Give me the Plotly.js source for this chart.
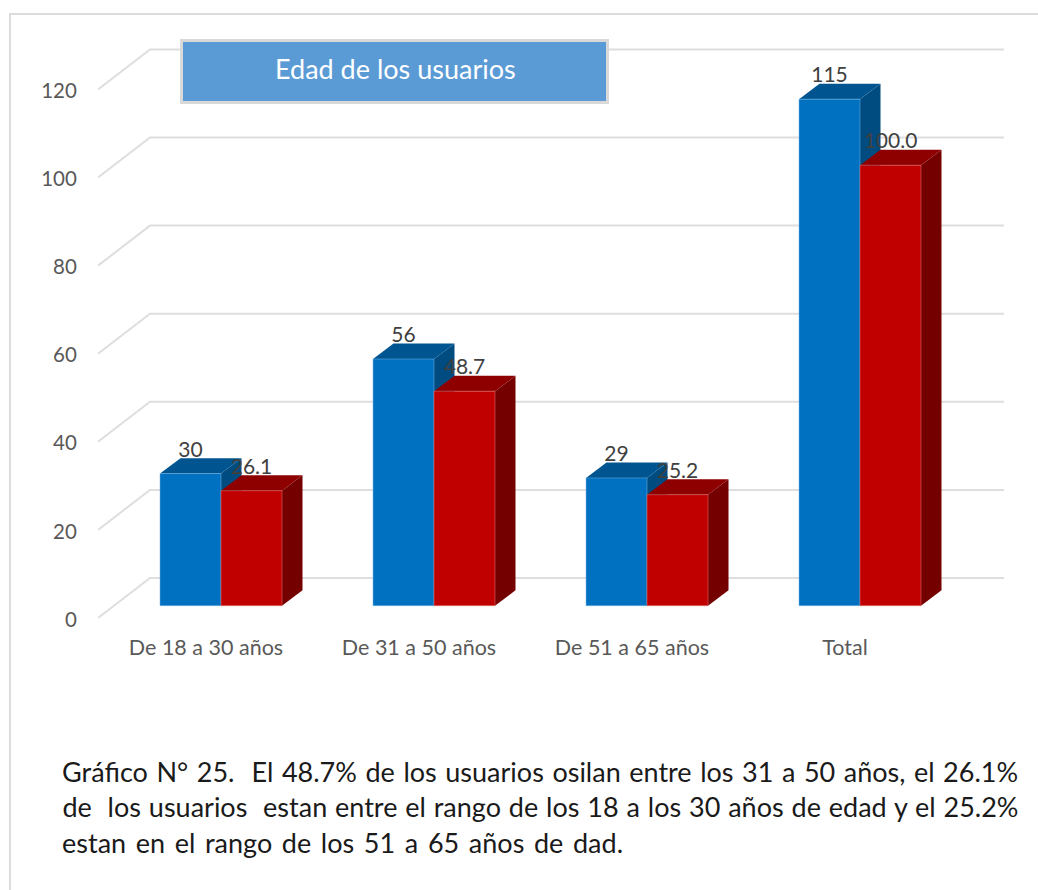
<!DOCTYPE html>
<html>
<head>
<meta charset="utf-8">
<script src="https://cdn.plot.ly/plotly-3.0.1.min.js"></script>
<style>
html,body{margin:0;padding:0;background:#fff;width:1038px;height:890px;overflow:hidden}
#frame{position:absolute;left:9px;top:13px;width:1040px;height:900px;border-left:2px solid #dcdcdc;border-top:2px solid #dcdcdc}
#chart{position:absolute;left:0;top:0;width:1038px;height:890px}
</style>
</head>
<body>
<div id="frame"></div>
<div id="chart"></div>
<script>
const categories = ['De 18 a 30 años', 'De 31 a 50 años', 'De 51 a 65 años', 'Total'];
const usuarios = [30, 56, 29, 115];
const porcentaje = [26.1, 48.7, 25.2, 100.0];
const yTicks = [0, 20, 40, 60, 80, 100, 120];
const chartTitle = 'Edad de los usuarios';
const captionLines = [
  'Gráfico N° 25.\u00a0 El 48.7% de los usuarios osilan entre los 31 a 50 años, el 26.1%',
  'de\u00a0 los usuarios\u00a0 estan entre el rango de los 18 a los 30 años de edad y el 25.2%',
  'estan en el rango de los 51 a 65 años de dad.'
];

// page geometry (pixels)
const W = 1038, H = 890;
const plot = {l: 98, r: 1004, t: 30, b: 627};
const pxPerUnit = 4.405, pxPerCat = 213, zeroPx = 605.7, cat0Px = 221;
const barPx = 61;
const depthBar = {x: 20.5, y: 15.4}, depthWall = {x: 52, y: 40};
const gridDrop = 12.3, tickLabelDrop = 13.8;

const xRange = [(plot.l - cat0Px) / pxPerCat, (plot.r - cat0Px) / pxPerCat];
const yRange = [(zeroPx - plot.b) / pxPerUnit, (zeroPx - plot.t) / pxPerUnit];
const barW = barPx / pxPerCat;
const dx = depthBar.x / pxPerCat, dy = depthBar.y / pxPerUnit;
const wallDx = depthWall.x / pxPerCat, wallDy = depthWall.y / pxPerUnit;
const idx = categories.map((_, i) => i);
const px2paperX = p => (p - plot.l) / (plot.r - plot.l);
const px2paperY = p => (plot.b - p) / (plot.b - plot.t);

function poly(pts, fill) {
  return {type: 'path', xref: 'x', yref: 'y', layer: 'below',
    path: 'M' + pts.map(p => p[0] + ',' + p[1]).join(' L') + ' Z',
    fillcolor: fill, line: {width: 0}};
}
function faces(xL, v, topCol, sideCol) {
  const xR = xL + barW;
  return [
    poly([[xR, 0], [xR + dx, dy], [xR + dx, v + dy], [xR, v]], sideCol),
    poly([[xL, v], [xL + dx, v + dy], [xR + dx, v + dy], [xR, v]], topCol)
  ];
}
const shapes = [];
// wall gridlines: short slanted floor line, then along the back wall
yTicks.forEach(v => {
  const fy = v - gridDrop / pxPerUnit;
  shapes.push({type: 'path', xref: 'x', yref: 'y', layer: 'below',
    path: `M${xRange[0]},${fy} L${xRange[0] + wallDx},${fy + wallDy} L${xRange[1]},${fy + wallDy}`,
    line: {color: '#dedede', width: 2}});
});
idx.forEach(i => shapes.push(...faces(i - barW, usuarios[i], '#005590', '#004b80')));
idx.forEach(i => shapes.push(...faces(i, porcentaje[i], '#8e0000', '#750000')));

const labelLift = 22 / pxPerUnit;
const labelFont = {family: 'Lato', size: 21, color: '#404040'};
const traces = [
  {type: 'bar', name: 'Usuarios', x: idx, y: usuarios, marker: {color: '#0070c0', line: {color: 'rgba(120,180,230,0.5)', width: 1}}, hoverinfo: 'y'},
  {type: 'bar', name: 'Porcentaje', x: idx, y: porcentaje, marker: {color: '#c00000', line: {color: 'rgba(230,120,120,0.5)', width: 1}}, hoverinfo: 'y'},
  {type: 'scatter', mode: 'text', x: idx.map(i => i - barW / 2), y: usuarios.map(v => v + labelLift),
    text: usuarios.map(v => String(v)), textposition: 'middle center', textfont: labelFont, hoverinfo: 'skip'},
  {type: 'scatter', mode: 'text', x: idx.map(i => i + barW / 2), y: porcentaje.map(v => v + labelLift),
    text: porcentaje.map(v => v.toFixed(1)), textposition: 'middle center', textfont: labelFont, hoverinfo: 'skip'},
  // keeps the label axis alive; draws nothing
  {type: 'scatter', mode: 'markers', x: yTicks.map(() => idx[0]), y: yTicks, yaxis: 'y2', marker: {opacity: 0, size: 1}, hoverinfo: 'skip'}
];

const captionY = [771, 806.5, 842];
const captionLeft = 62, captionRight = [1018, 1018, 623];
const annotations = [
  {xref: 'paper', yref: 'paper', x: px2paperX(394), y: px2paperY(71.5), xanchor: 'center', yanchor: 'middle',
   text: ' ', showarrow: false, width: 423, height: 59, bgcolor: '#5b9bd5', bordercolor: '#d9d9d9', borderwidth: 3, borderpad: 0},
  {xref: 'paper', yref: 'paper', x: px2paperX(395), y: px2paperY(69), xanchor: 'center', yanchor: 'middle',
   text: chartTitle, showarrow: false, font: {family: 'Lato', size: 27, color: '#ffffff'}},
  ...captionLines.map((t, k) => ({xref: 'paper', yref: 'paper',
    x: px2paperX((captionLeft + captionRight[k]) / 2), y: px2paperY(captionY[k]),
    xanchor: 'center', yanchor: 'middle', text: t, showarrow: false, borderpad: 0, borderwidth: 0,
    font: {family: 'Lato', size: 27, color: '#1a1a1a'}}))
];

const layout = {
  width: W, height: H, autosize: false, showlegend: false,
  paper_bgcolor: 'rgba(0,0,0,0)', plot_bgcolor: 'rgba(0,0,0,0)',
  margin: {l: plot.l, r: W - plot.r, t: plot.t, b: H - plot.b, pad: 0},
  barmode: 'group', bargap: 1 - 2 * barW, bargroupgap: 0,
  xaxis: {range: xRange, tickmode: 'array', tickvals: idx.map(i => i - 15 / pxPerCat), ticktext: categories,
    showgrid: false, zeroline: false, showline: false, ticks: 'outside', ticklen: 1, tickcolor: 'rgba(0,0,0,0)',
    tickfont: {family: 'Lato', size: 21.5, color: '#595959'}, fixedrange: true},
  yaxis: {range: yRange, showticklabels: false, showgrid: false, zeroline: false, showline: false, ticks: '', fixedrange: true},
  yaxis2: {range: [yRange[0] + tickLabelDrop / pxPerUnit, yRange[1] + tickLabelDrop / pxPerUnit], overlaying: 'y', side: 'left', anchor: 'x',
    tickmode: 'array', tickvals: yTicks, ticktext: yTicks.map(String),
    showgrid: false, zeroline: false, showline: false, ticks: 'outside', ticklen: 16, tickcolor: 'rgba(0,0,0,0)',
    tickfont: {family: 'Lato', size: 20.5, color: '#595959'}, fixedrange: true},
  shapes: shapes, annotations: annotations
};

Plotly.newPlot('chart', traces, layout, {displayModeBar: false, staticPlot: true}).then(() => {
  // justify the caption lines to their measured widths
  document.querySelectorAll('.annotation-text').forEach(n => {
    const s = n.textContent;
    const k = captionLines.indexOf(s);
    if (k < 0) return;
    const gaps = (s.match(/[ \u00a0]/g) || []).length;
    const w = n.getComputedTextLength();
    n.style.wordSpacing = ((captionRight[k] - captionLeft - w) / gaps) + 'px';
  });
});
</script>
</body>
</html>
